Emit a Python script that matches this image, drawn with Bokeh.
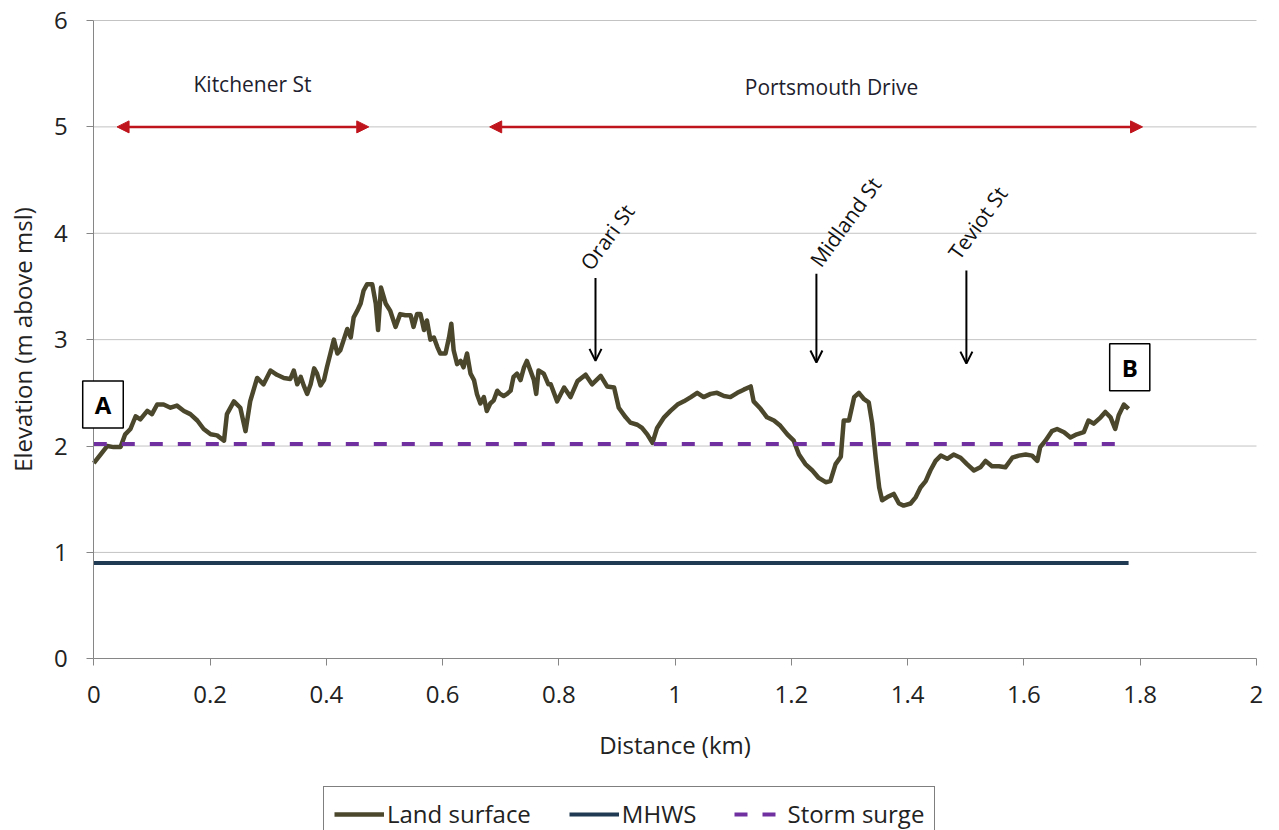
from bokeh.plotting import figure
from bokeh.models import (Range1d, FixedTicker, Legend, LegendItem, Arrow,
                          NormalHead, OpenHead, Label)
from bokeh.embed import file_html
from bokeh.resources import INLINE

# ---------------- data ----------------
land_x = [0.000, 0.0115, 0.023, 0.034, 0.046, 0.054, 0.063, 0.072, 0.080, 0.092,
          0.100, 0.109, 0.120, 0.132, 0.143, 0.155, 0.166, 0.178, 0.189, 0.201,
          0.212, 0.224, 0.229, 0.241, 0.252, 0.261, 0.269, 0.281, 0.292, 0.304,
          0.315, 0.327,
          0.338, 0.344, 0.350, 0.356, 0.361, 0.367, 0.373, 0.379, 0.384, 0.390,
          0.396, 0.401, 0.407, 0.413, 0.419, 0.424, 0.430, 0.436, 0.442, 0.447,
          0.453, 0.459, 0.464, 0.470, 0.479, 0.485, 0.489, 0.494, 0.502, 0.510,
          0.519, 0.527, 0.536, 0.545, 0.550, 0.556, 0.562, 0.568, 0.573, 0.579,
          0.585, 0.591, 0.596, 0.605, 0.611, 0.615, 0.619, 0.625, 0.631, 0.636,
          0.642, 0.648, 0.654, 0.659, 0.665, 0.671, 0.676, 0.682, 0.688, 0.694,
          0.699, 0.705, 0.711, 0.717, 0.722, 0.728, 0.734, 0.740, 0.745, 0.751,
          0.757, 0.761, 0.765, 0.774, 0.782,
          0.786, 0.797, 0.809, 0.820, 0.832, 0.846, 0.857, 0.872, 0.883, 0.895,
          0.903, 0.915, 0.923, 0.935, 0.943, 0.952, 0.961, 0.969, 0.981, 0.992,
          1.004, 1.015, 1.027, 1.038, 1.049, 1.061, 1.072, 1.084, 1.095, 1.107,
          1.118, 1.130, 1.135, 1.147, 1.158, 1.170, 1.181, 1.193, 1.204, 1.213,
          1.224, 1.236, 1.247, 1.259, 1.267, 1.276, 1.285, 1.290, 1.299, 1.308,
          1.316, 1.325, 1.333, 1.339, 1.345, 1.351, 1.356, 1.365, 1.376, 1.385,
          1.393, 1.405, 1.414, 1.422, 1.431, 1.439, 1.448, 1.457, 1.468, 1.479,
          1.491, 1.502, 1.514, 1.525, 1.534, 1.545, 1.557, 1.568, 1.580, 1.591,
          1.603, 1.614, 1.623, 1.628, 1.637, 1.648, 1.657, 1.669, 1.680, 1.691,
          1.703, 1.711, 1.720, 1.732, 1.740, 1.749, 1.757, 1.763, 1.772, 1.780]
land_y = [1.84, 1.92, 2.00, 1.99, 1.99, 2.11, 2.16, 2.28, 2.25, 2.33,
          2.30, 2.39, 2.39, 2.36, 2.38, 2.33, 2.30, 2.24, 2.16, 2.11,
          2.10, 2.05, 2.30, 2.42, 2.36, 2.14, 2.42, 2.64, 2.58, 2.71,
          2.67, 2.64,
          2.63, 2.71, 2.58, 2.65, 2.57, 2.49, 2.58, 2.73, 2.68, 2.57,
          2.62, 2.74, 2.87, 3.00, 2.87, 2.90, 3.00, 3.10, 3.02, 3.21,
          3.27, 3.34, 3.46, 3.52, 3.52, 3.34, 3.09, 3.49, 3.34, 3.27,
          3.12, 3.24, 3.23, 3.23, 3.12, 3.24, 3.24, 3.09, 3.18, 3.00,
          3.02, 2.93, 2.87, 2.87, 3.02, 3.15, 2.90, 2.77, 2.80, 2.74,
          2.87, 2.68, 2.62, 2.49, 2.40, 2.46, 2.33, 2.40, 2.43, 2.52,
          2.49, 2.47, 2.49, 2.52, 2.65, 2.68, 2.62, 2.74, 2.80, 2.71,
          2.62, 2.49, 2.71, 2.68, 2.58,
          2.58, 2.42, 2.55, 2.46, 2.61, 2.67, 2.58, 2.66, 2.56, 2.55,
          2.36, 2.27, 2.22, 2.20, 2.17, 2.11, 2.03, 2.17, 2.27, 2.33,
          2.39, 2.42, 2.46, 2.50, 2.46, 2.49, 2.50, 2.47, 2.46, 2.50,
          2.53, 2.56, 2.42, 2.35, 2.27, 2.24, 2.19, 2.11, 2.05, 1.92,
          1.83, 1.77, 1.70, 1.66, 1.67, 1.83, 1.90, 2.24, 2.24, 2.46,
          2.50, 2.44, 2.41, 2.21, 1.89, 1.61, 1.49, 1.52, 1.55, 1.46,
          1.44, 1.46, 1.52, 1.61, 1.67, 1.77, 1.86, 1.91, 1.88, 1.92,
          1.89, 1.83, 1.77, 1.80, 1.86, 1.81, 1.81, 1.80, 1.89, 1.91,
          1.92, 1.91, 1.86, 1.99, 2.05, 2.14, 2.16, 2.13, 2.08, 2.11,
          2.13, 2.24, 2.21, 2.27, 2.32, 2.27, 2.16, 2.29, 2.39, 2.35]

mhws_x = [0.0, 1.78]
mhws_y = [0.9, 0.9]
surge_x = [0.0, 1.78]
surge_y = [2.02, 2.02]

x_ticks = [0, 0.2, 0.4, 0.6, 0.8, 1.0, 1.2, 1.4, 1.6, 1.8, 2.0]
x_tick_labels = ["0", "0.2", "0.4", "0.6", "0.8", "1", "1.2", "1.4", "1.6", "1.8", "2"]
y_ticks = [0, 1, 2, 3, 4, 5, 6]
x_axis_extent = (0, 2)
y_axis_extent = (0, 6)

road_names = ["Kitchener St", "Portsmouth Drive"]
road_start = [0.040, 0.681]
road_end = [0.473, 1.804]
road_level = [5.0, 5.0]
road_label_x = [0.273, 1.269]
road_label_y = [5.40, 5.375]

street_names = ["Orari St", "Midland St", "Teviot St"]
street_x = [0.863, 1.243, 1.501]
street_top = [3.58, 3.62, 3.65]
street_bottom = [2.80, 2.785, 2.775]
street_label_x = [0.845, 1.240, 1.478]
street_label_y = [3.68, 3.71, 3.78]

end_names = ["A", "B"]
end_x = [0.0158, 1.782]
end_y = [2.39, 2.74]

FONT = "Open Sans"

# ---------------- figure ----------------
# the frame covers the whole canvas; axes are pinned at x=0 / y=0 so that the
# legend and the "A" box (which sit outside the axes) are not clipped
p = figure(width=1279, height=830,
           x_range=Range1d(-0.1605, 2.0396), y_range=Range1d(-1.614, 6.188),
           output_backend="svg", toolbar_location=None,
           min_border_left=0, min_border_right=0, min_border_top=0,
           min_border_bottom=0)
p.outline_line_color = None
p.background_fill_color = "white"
p.border_fill_color = "white"

p.xaxis.ticker = FixedTicker(ticks=x_ticks)
p.xaxis.major_label_overrides = {t: l for t, l in zip(x_ticks, x_tick_labels)}
p.yaxis.ticker = FixedTicker(ticks=y_ticks)
p.xaxis.fixed_location = 0
p.yaxis.fixed_location = 0
p.xaxis.bounds = x_axis_extent
p.yaxis.bounds = y_axis_extent
for ax in (p.xaxis, p.yaxis):
    ax.axis_line_color = "#868686"
    ax.axis_line_width = 1
    ax.major_tick_line_color = "#868686"
    ax.major_tick_out = 7
    ax.major_tick_in = 0
    ax.minor_tick_line_color = None
    ax.major_label_text_font = FONT
    ax.major_label_text_font_size = "24px"
    ax.major_label_text_color = "#222222"
    ax.axis_label_text_font = FONT
    ax.axis_label_text_font_size = "24px"
    ax.axis_label_text_font_style = "normal"
    ax.axis_label_text_color = "#222222"
p.xaxis.axis_label = "Distance (km)"
p.yaxis.axis_label = "Elevation (m above msl)"
p.xaxis.major_label_standoff = 20
p.yaxis.major_label_standoff = 19
p.xaxis.axis_label_standoff = 22
p.yaxis.axis_label_standoff = 12

p.xgrid.visible = False
p.ygrid.visible = False
grid_y = [t for t in y_ticks if t > 0]
p.segment(x0=[x_axis_extent[0]] * len(grid_y), x1=[x_axis_extent[1]] * len(grid_y),
          y0=grid_y, y1=grid_y, line_color="#c3c3c3", line_width=1, level="underlay")

# ---------------- series ----------------
r_mhws = p.line(mhws_x, mhws_y, line_color="#1f3a52", line_width=4)
r_land = p.line(land_x, land_y, line_color="#4b472c", line_width=4.5, line_join="round")
r_surge = p.line(surge_x, surge_y, line_color="#7030a0", line_width=4, line_dash="13 15")

# ---------------- annotations ----------------
for i in range(len(road_names)):
    p.add_layout(Arrow(x_start=road_start[i], y_start=road_level[i],
                       x_end=road_end[i], y_end=road_level[i],
                       line_color="#c0141c", line_width=2.5,
                       start=NormalHead(size=12, fill_color="#c0141c", line_color="#c0141c"),
                       end=NormalHead(size=12, fill_color="#c0141c", line_color="#c0141c")))
    p.add_layout(Label(x=road_label_x[i], y=road_label_y[i], text=road_names[i],
                       text_align="center", text_baseline="middle",
                       text_font=FONT, text_font_size="21px", text_color="#1e1e2e"))

for i in range(len(street_names)):
    p.add_layout(Arrow(x_start=street_x[i], y_start=street_top[i],
                       x_end=street_x[i], y_end=street_bottom[i],
                       line_color="black", line_width=2,
                       end=OpenHead(size=12, line_color="black", line_width=2)))
    p.add_layout(Label(x=street_label_x[i], y=street_label_y[i], text=street_names[i],
                       angle=54, angle_units="deg",
                       text_align="left", text_baseline="middle",
                       text_font=FONT, text_font_size="21px", text_color="#111111"))

for i in range(len(end_names)):
    p.add_layout(Label(x=end_x[i], y=end_y[i], text=end_names[i],
                       text_align="center", text_baseline="middle",
                       text_font=FONT, text_font_size="24px", text_font_style="bold",
                       text_color="black", background_fill_color="white",
                       border_line_color="black", border_line_width=1.5,
                       padding=(12, 7)))

legend = Legend(items=[LegendItem(label="Land surface", renderers=[r_land]),
                       LegendItem(label="MHWS", renderers=[r_mhws]),
                       LegendItem(label="Storm surge", renderers=[r_surge])],
                orientation="horizontal", location=(323, -11))
legend.label_text_font = FONT
legend.label_text_font_size = "24px"
legend.label_text_color = "#222222"
legend.glyph_width = 50
legend.label_standoff = 3
legend.spacing = 38
legend.padding = 10
legend.margin = 0
legend.border_line_color = "black"
legend.border_line_width = 1.5
legend.background_fill_color = "white"
p.add_layout(legend)

open("out.html", "w").write(file_html(p, INLINE))
